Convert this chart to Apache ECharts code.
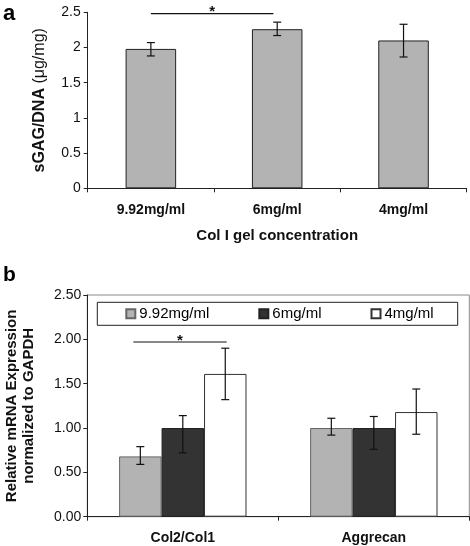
<!DOCTYPE html>
<html>
<head>
<meta charset="utf-8">
<script src="https://cdn.jsdelivr.net/npm/echarts@6/dist/echarts.min.js"></script>
<style>html,body{margin:0;padding:0;background:#fff}#c{width:470px;height:546px}</style>
</head>
<body>
<div id="c"></div>
<script>
// Panel a data
const catsA = ['9.92mg/ml', '6mg/ml', '4mg/ml'];
const valsA = [1.98, 2.26, 2.10];
const lowA = [1.88, 2.17, 1.865];
const highA = [2.07, 2.36, 2.33];
const ticksA = [0, 0.5, 1, 1.5, 2, 2.5];
const sigA = [0, 1, 2.48];

// Panel b data
const catsB = ['Col2/Col1', 'Aggrecan'];
const namesB = ['9.92mg/ml', '6mg/ml', '4mg/ml'];
const valsB992 = [0.68, 1.00];
const valsB6 = [1.00, 1.00];
const valsB4 = [1.61, 1.18];
const lowB992 = [0.59, 0.92];
const highB992 = [0.79, 1.11];
const lowB6 = [0.72, 0.76];
const highB6 = [1.14, 1.13];
const lowB4 = [1.32, 0.93];
const highB4 = [1.90, 1.44];
const ticksB = [0, 0.5, 1, 1.5, 2, 2.5];
const sigB = [0, 0, 1.97];

const FONT = 'Liberation Sans, Arial, sans-serif';
const chart = echarts.init(document.getElementById('c'), null, {renderer: 'canvas'});

function errItem(offsetIndex, nSeries, gapFrac) {
  return function (params, api) {
    const x = api.value(0), lo = api.value(1), hi = api.value(2);
    const band = api.size([1, 0])[0];
    const bw = band * (1 - gapFrac) / nSeries;
    const off = (offsetIndex - (nSeries - 1) / 2) * bw;
    const pHi = api.coord([x, hi]);
    const pLo = api.coord([x, lo]);
    const cx = pHi[0] + off;
    const cap = 4;
    const st = {stroke: '#111', lineWidth: 1.2};
    return {
      type: 'group',
      children: [
        {type: 'line', shape: {x1: cx, y1: pHi[1], x2: cx, y2: pLo[1]}, style: st},
        {type: 'line', shape: {x1: cx - cap, y1: pHi[1], x2: cx + cap, y2: pHi[1]}, style: st},
        {type: 'line', shape: {x1: cx - cap, y1: pLo[1], x2: cx + cap, y2: pLo[1]}, style: st}
      ]
    };
  };
}

function errData(lows, highs) {
  return lows.map((l, i) => [i, l, highs[i]]);
}

function sigRender(startFrac, endFrac, useSecondCat) {
  return function (params, api) {
    const band = api.size([1, 0])[0];
    const p1 = api.coord([api.value(0), api.value(2)]);
    const p2 = api.coord([useSecondCat ? api.value(1) : api.value(0), api.value(2)]);
    const x1 = p1[0] + band * startFrac;
    const x2 = p2[0] + band * endFrac;
    return {
      type: 'group',
      children: [
        {type: 'line', shape: {x1: x1, y1: p1[1], x2: x2, y2: p1[1]}, style: {stroke: '#111', lineWidth: 1.2}},
        {type: 'text', style: {text: '*', x: (x1 + x2) / 2, y: p1[1] - 9, textAlign: 'center', textVerticalAlign: 'top', font: 'bold 15px ' + FONT, fill: '#111'}}
      ]
    };
  };
}

const gapA = 0.6;
const gapB = 0.333;

const option = {
  animation: false,
  textStyle: {fontFamily: FONT},
  graphic: [
    {type: 'text', left: 3, top: 3, style: {text: 'a', font: 'bold 22px ' + FONT, fill: '#000'}},
    {type: 'text', left: 3, top: 265, style: {text: 'b', font: 'bold 21px ' + FONT, fill: '#000'}}
  ],
  grid: [
    {left: 87.7, top: 12.3, right: 3.3, height: 176, outerBoundsMode: 'none', containLabel: false},
    {left: 87.3, top: 295, right: 0.7, bottom: 29.3, outerBoundsMode: 'none', containLabel: false,
     show: true, borderColor: '#8a8a8a', borderWidth: 1, backgroundColor: 'transparent'}
  ],
  legend: {
    data: namesB,
    left: 97.3,
    top: 302.3,
    itemGap: 49,
    itemWidth: 9,
    itemHeight: 9,
    padding: [4, 24, 4, 28],
    borderColor: '#222',
    borderWidth: 1,
    icon: 'rect',
    textStyle: {fontFamily: FONT, fontSize: 15, color: '#000', padding: [0, 0, 0, -1]}
  },
  xAxis: [
    {
      type: 'category', gridIndex: 0, data: catsA,
      axisLine: {lineStyle: {color: '#222', width: 1}},
      axisTick: {show: true, length: 4, lineStyle: {color: '#222'}},
      axisLabel: {fontFamily: FONT, fontSize: 14, fontWeight: 'bold', color: '#111', margin: 15},
      name: 'Col I gel concentration', nameLocation: 'middle', nameGap: 40,
      nameTextStyle: {fontFamily: FONT, fontSize: 15, fontWeight: 'bold', color: '#111'}
    },
    {
      type: 'category', gridIndex: 1, data: catsB,
      axisLine: {lineStyle: {color: '#222', width: 1}},
      axisTick: {show: true, length: 4, lineStyle: {color: '#222'}},
      axisLabel: {fontFamily: FONT, fontSize: 14, fontWeight: 'bold', color: '#111', margin: 14}
    }
  ],
  yAxis: [
    {
      type: 'value', gridIndex: 0, min: ticksA[0], max: ticksA[ticksA.length - 1], interval: 0.5,
      axisLine: {show: true, lineStyle: {color: '#222'}},
      axisTick: {show: true, length: 4, lineStyle: {color: '#222'}},
      splitLine: {show: false},
      axisLabel: {fontFamily: FONT, fontSize: 14, color: '#111', margin: 7},
      name: '{bld|sGAG/DNA} {reg|(μg/mg)}', nameLocation: 'middle', nameGap: 40,
      nameTextStyle: {
        fontFamily: FONT, fontSize: 16, color: '#111',
        rich: {
          bld: {fontFamily: FONT, fontSize: 16, fontWeight: 'bold', color: '#111'},
          reg: {fontFamily: FONT, fontSize: 16, fontWeight: 'normal', color: '#111'}
        }
      }
    },
    {
      type: 'value', gridIndex: 1, min: ticksB[0], max: ticksB[ticksB.length - 1], interval: 0.5,
      axisLine: {show: true, lineStyle: {color: '#222'}},
      axisTick: {show: true, length: 4, lineStyle: {color: '#222'}},
      splitLine: {show: false},
      axisLabel: {fontFamily: FONT, fontSize: 14, color: '#111', margin: 6, formatter: v => v.toFixed(2)},
      name: 'Relative mRNA Expression\nnormalized to GAPDH', nameLocation: 'middle', nameGap: 50,
      nameTextStyle: {fontFamily: FONT, fontSize: 15, fontWeight: 'bold', color: '#111', lineHeight: 17}
    }
  ],
  series: [
    {
      type: 'bar', xAxisIndex: 0, yAxisIndex: 0, data: valsA, barCategoryGap: '60%',
      itemStyle: {color: '#b3b3b3', borderColor: '#222', borderWidth: 1}
    },
    {
      type: 'custom', xAxisIndex: 0, yAxisIndex: 0, data: errData(lowA, highA), z: 5,
      renderItem: errItem(0, 1, gapA)
    },
    {
      type: 'custom', xAxisIndex: 0, yAxisIndex: 0, data: [sigA], z: 5, clip: false,
      renderItem: sigRender(0, -0.03, true)
    },
    {
      name: namesB[0], type: 'bar', xAxisIndex: 1, yAxisIndex: 1, data: valsB992, barGap: '0%', barCategoryGap: '33.3%',
      itemStyle: {color: '#b3b3b3', borderColor: '#666', borderWidth: 1}
    },
    {
      name: namesB[1], type: 'bar', xAxisIndex: 1, yAxisIndex: 1, data: valsB6, barGap: '0%', barCategoryGap: '33.3%',
      itemStyle: {color: '#333333', borderColor: '#222', borderWidth: 1}
    },
    {
      name: namesB[2], type: 'bar', xAxisIndex: 1, yAxisIndex: 1, data: valsB4, barGap: '0%', barCategoryGap: '33.3%',
      itemStyle: {color: '#ffffff', borderColor: '#333', borderWidth: 1}
    },
    {type: 'custom', xAxisIndex: 1, yAxisIndex: 1, data: errData(lowB992, highB992), z: 5, renderItem: errItem(0, 3, gapB)},
    {type: 'custom', xAxisIndex: 1, yAxisIndex: 1, data: errData(lowB6, highB6), z: 5, renderItem: errItem(1, 3, gapB)},
    {type: 'custom', xAxisIndex: 1, yAxisIndex: 1, data: errData(lowB4, highB4), z: 5, renderItem: errItem(2, 3, gapB)},
    {
      type: 'custom', xAxisIndex: 1, yAxisIndex: 1, data: [sigB], z: 5, clip: false,
      renderItem: sigRender(-0.259, 0.23, false)
    }
  ]
};
chart.setOption(option);
</script>
</body>
</html>
